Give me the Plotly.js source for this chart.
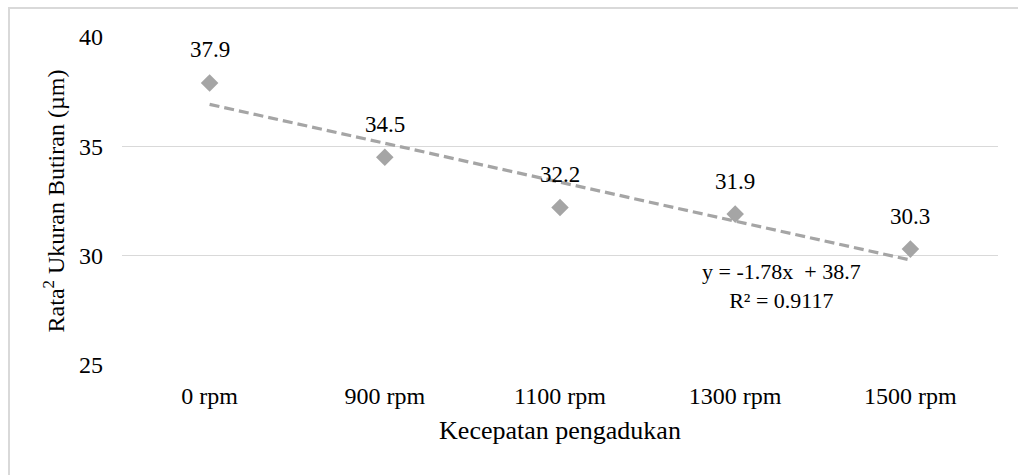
<!DOCTYPE html>
<html>
<head>
<meta charset="utf-8">
<script src="https://cdn.plot.ly/plotly-3.0.1.min.js"></script>
<style>
  html, body { margin: 0; padding: 0; background: #fff; overflow: hidden; }
  #chart { width: 1018px; height: 475px; }
  #frame { position: absolute; left: 8px; top: 7px; width: 1100px; height: 600px;
           border-top: 2px solid #D9D9D9; border-left: 2px solid #D9D9D9; pointer-events: none; }
</style>
</head>
<body>
<div id="chart"></div>
<div id="frame"></div>
<script>
const categories = ["0 rpm", "900 rpm", "1100 rpm", "1300 rpm", "1500 rpm"];
const values = [37.9, 34.5, 32.2, 31.9, 30.3];
const labels = ["37.9", "34.5", "32.2", "31.9", "30.3"];
const yTicks = [25, 30, 35, 40];

// Linear trendline (Excel-style, x = 1..n)
const n = values.length;
const xs = values.map((_, i) => i + 1);
const mx = xs.reduce((a, b) => a + b, 0) / n;
const my = values.reduce((a, b) => a + b, 0) / n;
let sxy = 0, sxx = 0, syy = 0;
for (let i = 0; i < n; i++) { sxy += (xs[i] - mx) * (values[i] - my); sxx += (xs[i] - mx) ** 2; syy += (values[i] - my) ** 2; }
const slope = sxy / sxx;
const intercept = my - slope * mx;
let ssr = 0;
for (let i = 0; i < n; i++) { ssr += (values[i] - (slope * xs[i] + intercept)) ** 2; }
const r2 = 1 - ssr / syy;
const trendX = [categories[0], categories[n - 1]];
const trendY = [slope * xs[0] + intercept, slope * xs[n - 1] + intercept];

const FONT = 'Times New Roman, Liberation Serif, serif';
const GRAY = '#A5A5A5';

const traces = [
  {
    x: categories, y: values, type: 'scatter', mode: 'markers',
    marker: { symbol: 'diamond', size: 13.5, color: GRAY }, showlegend: false
  },
  {
    x: trendX, y: trendY, type: 'scatter', mode: 'lines',
    line: { color: GRAY, width: 3.2, dash: '10px,5px' }, hoverinfo: 'skip', showlegend: false
  }
];

const annotations = categories.map((c, i) => ({
  x: c, y: values[i], xref: 'x', yref: 'y', text: labels[i], showarrow: false,
  yshift: 33, font: { family: FONT, size: 23, color: '#000' }
}));
annotations.push({
  xref: 'paper', yref: 'paper', x: 0.753, y: 0.241, xanchor: 'center', yanchor: 'middle',
  text: 'y = -' + Math.abs(slope).toFixed(2) + 'x  + ' + intercept.toFixed(1) + '<br>R² = ' + r2.toFixed(4),
  showarrow: false, align: 'center', font: { family: FONT, size: 22, color: '#000' }
});

const layout = {
  width: 1018, height: 475,
  margin: { l: 122, r: 20, t: 37, b: 110 },
  paper_bgcolor: '#fff', plot_bgcolor: '#fff',
  font: { family: FONT, size: 23, color: '#000' },
  showlegend: false,
  xaxis: {
    type: 'category', categoryorder: 'array', categoryarray: categories,
    range: [-0.5, 4.5], showgrid: false, zeroline: false, showline: false,
    ticks: '', ticklabelstandoff: 14, tickfont: { family: FONT, size: 24, color: '#000' },
    title: { text: 'Kecepatan pengadukan', font: { family: FONT, size: 26, color: '#000' }, standoff: 12 }
  },
  yaxis: {
    range: [25, 40], tickvals: yTicks, ticktext: yTicks.map(String),
    showgrid: true, gridcolor: '#D9D9D9', gridwidth: 1.5, zeroline: false, showline: false,
    ticks: '', ticklabelstandoff: 18, tickfont: { family: FONT, size: 24, color: '#000' },
    title: { text: 'Rata<sup>2</sup> Ukuran Butiran (µm)', font: { family: FONT, size: 24, color: '#000' }, standoff: 7 }
  },
  annotations: annotations
};

Plotly.newPlot('chart', traces, layout, { displayModeBar: false, staticPlot: true });
</script>
</body>
</html>
